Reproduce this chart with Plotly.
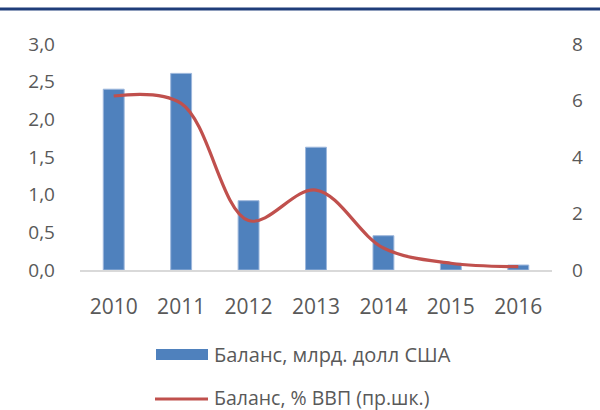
import plotly.graph_objects as go

years = ["2010", "2011", "2012", "2013", "2014", "2015", "2016"]
balance_usd = [2.40, 2.61, 0.92, 1.63, 0.455, 0.09, 0.066]
balance_gdp = [6.16, 5.90, 1.75, 2.83, 0.78, 0.24, 0.12]
name_bar = "Баланс, млрд. долл США"
name_line = "Баланс, % ВВП (пр.шк.)"
left_ticks = [0, 0.5, 1.0, 1.5, 2.0, 2.5, 3.0]
left_labels = ["0,0", "0,5", "1,0", "1,5", "2,0", "2,5", "3,0"]
right_ticks = [0, 2, 4, 6, 8]

FONT = "Open Sans"
TXT = "#595959"
BLUE = "#4F81BD"
RED = "#C0504D"

W, H = 600, 410
L, R, T, B = 80, 48, 44, 140
PW = W - L - R
PH = H - T - B


def px(x):
    return (x - L) / PW


def py(y):
    return (H - B - y) / PH


fig = go.Figure()
fig.add_trace(go.Bar(
    x=years, y=balance_usd, name=name_bar, width=0.31,
    marker=dict(color=BLUE, line=dict(color="#9DB7DC", width=1)),
    yaxis="y", showlegend=False,
))
fig.add_trace(go.Scatter(
    x=years, y=balance_gdp, name=name_line, mode="lines",
    line=dict(color=RED, width=3.2, shape="spline", smoothing=1.0),
    yaxis="y2", showlegend=False,
))

shapes = [
    # top navy rule
    dict(type="line", xref="paper", yref="paper",
         x0=px(0), x1=px(W), y0=py(9), y1=py(9),
         line=dict(color="#1F3D7A", width=3)),
    # legend swatches
    dict(type="rect", xref="paper", yref="paper",
         x0=px(156), x1=px(208), y0=py(360), y1=py(349),
         fillcolor=BLUE, line=dict(width=0)),
    dict(type="line", xref="paper", yref="paper",
         x0=px(155), x1=px(208), y0=py(399), y1=py(399),
         line=dict(color=RED, width=3)),
]
annotations = [
    dict(xref="paper", yref="paper", x=px(212), y=py(354.5),
         xanchor="left", yanchor="middle", text=name_bar, showarrow=False,
         font=dict(family=FONT, size=20, color=TXT)),
    dict(xref="paper", yref="paper", x=px(212), y=py(397.5),
         xanchor="left", yanchor="middle", text=name_line, showarrow=False,
         font=dict(family=FONT, size=19.5, color=TXT)),
]

fig.update_layout(
    width=W, height=H,
    margin=dict(l=L, r=R, t=T, b=B, pad=0),
    paper_bgcolor="white", plot_bgcolor="white",
    font=dict(family=FONT, color=TXT),
    shapes=shapes,
    annotations=annotations,
    showlegend=False,
    hovermode=False,
    xaxis=dict(
        type="category", showgrid=False, zeroline=False,
        showline=True, linecolor="#D9D9D9", linewidth=2,
        ticks="", tickfont=dict(family=FONT, size=21, color=TXT),
        ticklabelstandoff=17,
    ),
    yaxis=dict(
        range=[0, 3.0], tickvals=left_ticks, ticktext=left_labels,
        showgrid=False, zeroline=False, showline=False, ticks="",
        tickfont=dict(family=FONT, size=19, color=TXT),
        ticklabelstandoff=24,
    ),
    yaxis2=dict(
        range=[0, 8], tickvals=right_ticks, overlaying="y", side="right",
        showgrid=False, zeroline=False, showline=False, ticks="",
        tickfont=dict(family=FONT, size=19, color=TXT),
        ticklabelstandoff=19,
    ),
)

fig.write_html("out.html", config={"displayModeBar": False},
               post_script="document.body.style.margin='0px';")
